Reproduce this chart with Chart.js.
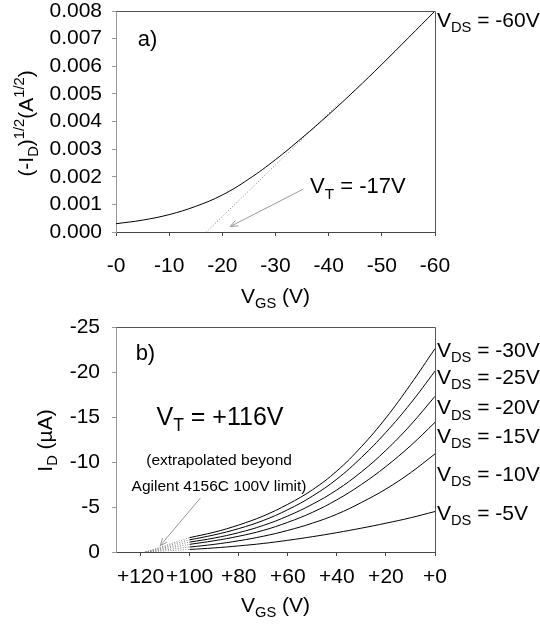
<!DOCTYPE html>
<html>
<head>
<meta charset="utf-8">
<script src="https://cdn.jsdelivr.net/npm/chart.js@4.4.1/dist/chart.umd.min.js"></script>
<style>
    html, body { margin: 0; padding: 0; background: #fff; }
    #wrap { position: relative; width: 540px; height: 631px; }
    #chartA { position: absolute; left: 0; top: 0; }
    #chartB { position: absolute; left: 0; top: 315px; }
</style>
</head>
<body>
<div id="wrap">
    <canvas id="chartA" width="540" height="315"></canvas>
    <canvas id="chartB" width="540" height="316"></canvas>
</div>
<script>
const FONT = "'Liberation Sans', Arial, Helvetica, sans-serif";

// panel a) : sqrt(-ID) vs VGS at VDS = -60V
const vgsA = [0, -5, -10, -15, -20, -25, -30, -35, -40, -45, -50, -55, -60];
const sqrtIdA = [0.0003, 0.00043, 0.00063, 0.00093, 0.00134, 0.00192, 0.00262, 0.00341, 0.00425, 0.00514, 0.00607, 0.00703, 0.0080];
const fitVgsA = [-17, -42];
const fitSqrtA = [0, 0.00467];
const xTicksA = [0, -10, -20, -30, -40, -50, -60];
const yTicksA = [0, 0.001, 0.002, 0.003, 0.004, 0.005, 0.006, 0.007, 0.008];

// panel b) : ID (uA) vs VGS for several VDS
const vgsB = [100, 90, 80, 70, 60, 50, 40, 30, 20, 10, 0];
const idVds30 = [-1.6, -2.2, -3.0, -4.0, -5.3, -6.9, -9.0, -11.7, -14.9, -18.6, -22.6];
const idVds25 = [-1.35, -1.9, -2.6, -3.5, -4.7, -6.2, -8.1, -10.5, -13.3, -16.5, -20.1];
const idVds20 = [-1.1, -1.55, -2.15, -2.95, -4.0, -5.3, -6.9, -8.9, -11.3, -14.1, -17.3];
const idVds15 = [-0.85, -1.25, -1.75, -2.4, -3.3, -4.4, -5.8, -7.5, -9.5, -11.8, -14.4];
const idVds10 = [-0.55, -0.85, -1.25, -1.75, -2.4, -3.2, -4.2, -5.5, -7.0, -8.8, -10.9];
const idVds5 = [-0.28, -0.45, -0.68, -0.95, -1.3, -1.7, -2.15, -2.65, -3.2, -3.8, -4.5];
const seriesB = [idVds30, idVds25, idVds20, idVds15, idVds10, idVds5];
const vdsNamesB = ["-30V", "-25V", "-20V", "-15V", "-10V", "-5V"];
const labelIdB = [-21.7, -18.7, -15.3, -12.1, -7.9, -3.6];
const extrapVgsB = [118, 100];
const xTicksB = [120, 100, 80, 60, 40, 20, 0];
const yTicksB = [-25, -20, -15, -10, -5, 0];

Chart.defaults.font.family = FONT;
Chart.defaults.color = "#000";

function zip(xs, ys) {
    return xs.map((x, i) => ({ x: x, y: ys[i] }));
}

function drawRich(ctx, parts, x, y, size, align) {
    const small = size * 0.7;
    let total = 0;
    parts.forEach(([t, k]) => {
        ctx.font = `${k === "n" ? size : small}px ${FONT}`;
        total += ctx.measureText(t).width;
    });
    let cx = align === "center" ? x - total / 2 : x;
    ctx.textAlign = "left";
    ctx.textBaseline = "alphabetic";
    parts.forEach(([t, k]) => {
        const s = k === "n" ? size : small;
        ctx.font = `${s}px ${FONT}`;
        const dy = k === "sub" ? size * 0.25 : k === "sup" ? -size * 0.42 : 0;
        ctx.fillText(t, cx, y + dy);
        cx += ctx.measureText(t).width;
    });
}

function arrow(ctx, x1, y1, x2, y2, color) {
    const ang = Math.atan2(y2 - y1, x2 - x1);
    const len = 8;
    ctx.save();
    ctx.strokeStyle = color;
    ctx.lineWidth = 1;
    ctx.beginPath();
    ctx.moveTo(x1, y1);
    ctx.lineTo(x2, y2);
    ctx.moveTo(x2 - len * Math.cos(ang - 0.4), y2 - len * Math.sin(ang - 0.4));
    ctx.lineTo(x2, y2);
    ctx.lineTo(x2 - len * Math.cos(ang + 0.4), y2 - len * Math.sin(ang + 0.4));
    ctx.stroke();
    ctx.restore();
}

function align(p) {
    return Math.round(p - 0.5) + 0.5;
}

function boxLines(chart) {
    const { ctx, chartArea: a } = chart;
    ctx.save();
    ctx.strokeStyle = "#555";
    ctx.lineWidth = 1;
    ctx.beginPath();
    ctx.moveTo(align(a.left), align(a.top));
    ctx.lineTo(align(a.right), align(a.top));
    ctx.lineTo(align(a.right), align(a.bottom));
    ctx.stroke();
    ctx.restore();
}

function axes(opts) {
    return {
        x: {
            type: "linear",
            min: opts.xMin, max: opts.xMax, reverse: true,
            afterBuildTicks: s => { s.ticks = opts.xTicks.map(v => ({ value: v })); },
            ticks: {
                autoSkip: false, maxRotation: 0, minRotation: 0,
                padding: opts.xPad, font: { size: 21 }, color: "#000",
                callback: opts.xLabel
            },
            grid: { drawOnChartArea: false, drawTicks: true, tickLength: 4, color: "#444" },
            border: { display: true, color: "#444" },
            afterFit: s => {
                s.height = opts.xHeight;
                s.paddingLeft = 0; s.paddingRight = 0;
            }
        },
        y: {
            type: "linear",
            min: opts.yMin, max: opts.yMax, reverse: opts.yReverse,
            afterBuildTicks: s => { s.ticks = opts.yTicks.map(v => ({ value: v })); },
            ticks: {
                autoSkip: false, padding: opts.yPad, font: { size: 21 }, color: "#000",
                callback: opts.yLabel
            },
            grid: { drawOnChartArea: false, drawTicks: true, tickLength: 4, color: "#999" },
            border: { display: true, color: "#999" },
            afterFit: s => {
                s.width = 116;
                s.paddingTop = 0; s.paddingBottom = 0;
            }
        }
    };
}

// ---------- panel a ----------
new Chart(document.getElementById("chartA"), {
    type: "scatter",
    data: {
        datasets: [
            {
                data: zip(vgsA, sqrtIdA), showLine: true, borderColor: "#000",
                borderWidth: 1, pointRadius: 0, tension: 0.4
            },
            {
                data: zip(fitVgsA, fitSqrtA), showLine: true, borderColor: "#777",
                borderWidth: 1, borderDash: [1, 2], pointRadius: 0
            }
        ]
    },
    options: {
        responsive: false,
        animation: false,
        layout: { padding: { left: 0, right: 105, top: 11, bottom: 0 } },
        plugins: { legend: { display: false }, tooltip: { enabled: false } },
        scales: axes({
            xMin: -60, xMax: 0, xTicks: xTicksA, xPad: 18, xHeight: 83,
            xLabel: v => (v === 0 ? "-0" : String(v)),
            yMin: 0, yMax: 0.008, yReverse: false, yTicks: yTicksA, yPad: 10,
            yLabel: v => Number(v).toFixed(3)
        })
    },
    plugins: [{
        id: "notesA",
        afterDraw(chart) {
            const { ctx, chartArea: a, scales: { x, y } } = chart;
            boxLines(chart);
            ctx.fillStyle = "#000";
            drawRich(ctx, [["a)", "n"]], x.getPixelForValue(-4.1), y.getPixelForValue(0.00675), 22, "left");
            drawRich(ctx, [["V", "n"], ["DS", "sub"], [" = -60V", "n"]], a.right + 2, y.getPixelForValue(0.00742), 21, "left");
            drawRich(ctx, [["V", "n"], ["T", "sub"], [" = -17V", "n"]], x.getPixelForValue(-36.5), y.getPixelForValue(0.0014), 22, "left");
            arrow(ctx, x.getPixelForValue(-35.2), y.getPixelForValue(0.00155),
                x.getPixelForValue(-21.5), y.getPixelForValue(0.0002), "#999");
            drawRich(ctx, [["V", "n"], ["GS", "sub"], [" (V)", "n"]], (a.left + a.right) / 2, 303, 21, "center");
            ctx.save();
            ctx.translate(33, (a.top + a.bottom) / 2 + 2);
            ctx.rotate(-Math.PI / 2);
            drawRich(ctx, [["(-I", "n"], ["D", "sub"], [")", "n"], ["1/2", "sup"], ["(A", "n"], ["1/2", "sup"], [")", "n"]], 0, 0, 21, "center");
            ctx.restore();
        }
    }]
});

// ---------- panel b ----------
const datasetsB = [];
seriesB.forEach(ids => {
    datasetsB.push({
        data: zip(vgsB, ids), showLine: true, borderColor: "#000",
        borderWidth: 1, pointRadius: 0, tension: 0.4
    });
    datasetsB.push({
        data: zip(extrapVgsB, [0, ids[0]]), showLine: true, borderColor: "#888",
        borderWidth: 1, borderDash: [1, 1.5], pointRadius: 0
    });
});

new Chart(document.getElementById("chartB"), {
    type: "scatter",
    data: { datasets: datasetsB },
    options: {
        responsive: false,
        animation: false,
        layout: { padding: { left: 0, right: 105, top: 12, bottom: 0 } },
        plugins: { legend: { display: false }, tooltip: { enabled: false } },
        scales: axes({
            xMin: 0, xMax: 130, xTicks: xTicksB, xPad: 9, xHeight: 79,
            xLabel: v => "+" + v,
            yMin: -25, yMax: 0, yReverse: true, yTicks: yTicksB, yPad: 12,
            yLabel: v => String(v)
        })
    },
    plugins: [{
        id: "notesB",
        afterDraw(chart) {
            const { ctx, chartArea: a, scales: { x, y } } = chart;
            boxLines(chart);
            ctx.fillStyle = "#000";
            drawRich(ctx, [["b)", "n"]], x.getPixelForValue(122), y.getPixelForValue(-21.3), 22, "left");
            drawRich(ctx, [["V", "n"], ["T", "sub"], [" = +116V", "n"]], x.getPixelForValue(113.5), y.getPixelForValue(-14.1), 25, "left");
            drawRich(ctx, [["(extrapolated beyond", "n"]], x.getPixelForValue(88), y.getPixelForValue(-9.65), 15.5, "center");
            drawRich(ctx, [["Agilent 4156C 100V limit)", "n"]], x.getPixelForValue(88), y.getPixelForValue(-6.75), 15.5, "center");
            arrow(ctx, x.getPixelForValue(95.6), y.getPixelForValue(-6.0),
                x.getPixelForValue(112), y.getPixelForValue(-0.7), "#999");
            vdsNamesB.forEach((name, i) => {
                drawRich(ctx, [["V", "n"], ["DS", "sub"], [" = " + name, "n"]], a.right + 2, y.getPixelForValue(labelIdB[i]), 21, "left");
            });
            drawRich(ctx, [["V", "n"], ["GS", "sub"], [" (V)", "n"]], (a.left + a.right) / 2, 297, 21, "center");
            ctx.save();
            ctx.translate(52, (a.top + a.bottom) / 2 + 1);
            ctx.rotate(-Math.PI / 2);
            drawRich(ctx, [["I", "n"], ["D", "sub"], [" (\u00b5A)", "n"]], 0, 0, 21, "center");
            ctx.restore();
        }
    }]
});
</script>
</body>
</html>
